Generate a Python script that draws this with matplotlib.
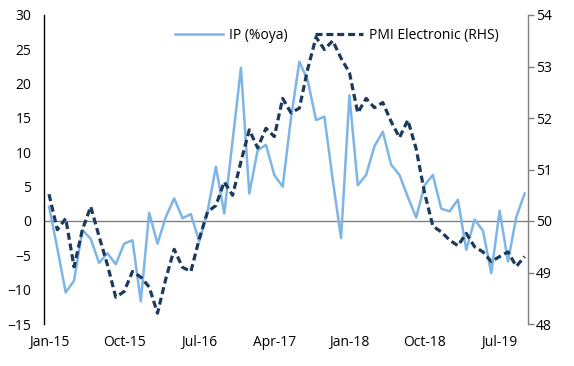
import matplotlib
matplotlib.use("Agg")
import matplotlib.pyplot as plt

# monthly, Jan-15 .. Oct-19
ip = [2.1, -4.0, -10.4, -8.7, -1.3, -2.6, -6.1, -4.7, -6.3, -3.3, -2.8, -11.7,
      1.2, -3.3, 0.6, 3.3, 0.4, 1.0, -3.0, 1.4, 7.9, 1.1, 11.7, 22.3,
      4.0, 10.3, 11.1, 6.7, 5.0, 15.0, 23.2, 20.5, 14.7, 15.2, 6.0, -2.5,
      18.3, 5.2, 6.7, 10.9, 13.0, 8.2, 6.7, 3.5, 0.5, 5.2, 6.7, 1.8,
      1.4, 3.1, -4.2, 0.2, -1.4, -7.6, 1.5, -5.9, 0.6, 4.0]
pmi = [50.52, 49.83, 50.05, 49.11, 49.83, 50.28, 49.70, 49.15, 48.52, 48.63, 49.02, 48.91,
       48.72, 48.21, 48.88, 49.45, 49.10, 49.02, 49.65, 50.18, 50.30, 50.76, 50.50, 51.15,
       51.77, 51.42, 51.80, 51.64, 52.38, 52.10, 52.19, 52.95, 53.57, 53.33, 53.50, 53.16,
       52.88, 52.10, 52.38, 52.20, 52.30, 51.93, 51.62, 51.96, 51.40, 50.55, 49.90, 49.79,
       49.63, 49.52, 49.76, 49.50, 49.40, 49.21, 49.31, 49.40, 49.12, 49.31]
tick_pos = [0, 9, 18, 27, 36, 45, 54]
tick_labels = ["Jan-15", "Oct-15", "Jul-16", "Apr-17", "Jan-18", "Oct-18", "Jul-19"]

plt.rcParams['font.family'] = ['Open Sans', 'DejaVu Sans']
ip_color = "#7db5e6"
pmi_color = "#1b3a5c"
grey = "#808080"

fig = plt.figure(figsize=(5.74, 3.66), dpi=100)
ax = fig.add_axes([44/574, 1 - 324/366, 484/574, 309/366])
ax2 = ax.twinx()

x = list(range(len(ip)))
ax.axhline(0, color=grey, lw=1.0, zorder=1)
l1, = ax.plot(x, ip, color=ip_color, lw=1.8, label="IP (%oya)", zorder=2)
l2, = ax2.plot(x, pmi, color=pmi_color, lw=2.3, ls=(0, (2.2, 1.2)),
               label="PMI Electronic (RHS)")

ax.set_xlim(-0.6, 57.4)
ax.set_ylim(-15, 30)
ax.set_yticks(range(-15, 31, 5))
ax2.set_ylim(48, 54)
ax2.set_yticks(range(48, 55))
ax.set_xticks(tick_pos)
ax.set_xticklabels(tick_labels)

for s in ["top", "bottom", "right"]:
    ax.spines[s].set_visible(False)
    ax2.spines[s if s != "right" else "left"].set_visible(False)
ax.spines["left"].set_color("black")
ax.spines["left"].set_linewidth(1.0)
ax2.spines["right"].set_color(grey)
ax2.spines["right"].set_linewidth(1.0)

ax.tick_params(axis="y", length=0, pad=9, labelsize=10)
ax.tick_params(axis="x", length=0, pad=8, labelsize=10)
ax2.tick_params(axis="y", length=4, width=1, color=grey, pad=1.5, labelsize=10)

ax.legend([l1, l2], [l1.get_label(), l2.get_label()], ncol=2, frameon=False,
          loc="center", bbox_to_anchor=(0.605, 0.935), fontsize=10,
          handlelength=3.45, handletextpad=0.43, columnspacing=2.0)

fig.savefig("out.png", dpi=100)
